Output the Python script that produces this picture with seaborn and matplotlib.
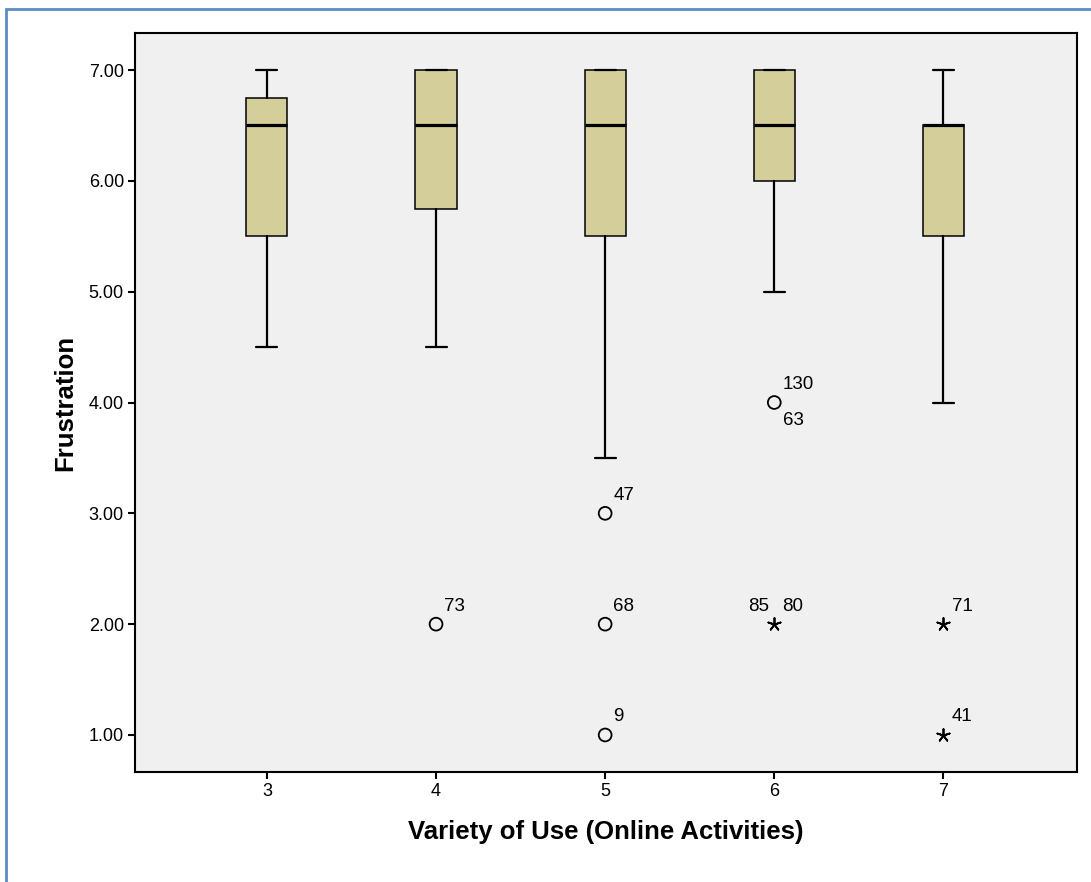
import matplotlib
matplotlib.use("Agg")
import matplotlib.pyplot as plt
import seaborn as sns
import pandas as pd
from matplotlib.patches import Rectangle

# ---- data ----
categories = [3, 4, 5, 6, 7]
whisker_low = [4.5, 4.5, 3.5, 5.0, 4.0]
q1 = [5.5, 5.75, 5.5, 6.0, 5.5]
median = [6.5, 6.5, 6.5, 6.5, 6.5]
q3 = [6.75, 7.0, 7.0, 7.0, 6.5]
whisker_high = [7.0, 7.0, 7.0, 7.0, 7.0]

outlier_x = [4, 5, 5, 5, 6, 6, 7, 7]
outlier_y = [2.0, 3.0, 2.0, 1.0, 4.0, 2.0, 2.0, 1.0]
outlier_kind = ["outlier", "outlier", "outlier", "outlier", "outlier", "extreme", "extreme", "extreme"]

label_x = [4, 5, 5, 5, 6, 6, 6, 6, 7, 7]
label_y = [2.0, 3.0, 2.0, 1.0, 4.0, 4.0, 2.0, 2.0, 2.0, 1.0]
label_text = ["73", "47", "68", "9", "130", "63", "85", "80", "71", "41"]
label_side = ["ur", "ur", "ur", "ur", "ur", "lr", "ul", "ur", "ur", "ur"]

x_label = "Variety of Use (Online Activities)"
y_label = "Frustration"
y_ticks = [1.0, 2.0, 3.0, 4.0, 5.0, 6.0, 7.0]

# ---- style ----
sns.set_theme(style="ticks")
plt.rcParams["font.family"] = ["Liberation Sans", "DejaVu Sans"]
plt.rcParams["text.color"] = "black"
plt.rcParams["axes.labelcolor"] = "black"

fig = plt.figure(figsize=(10.91, 8.82), dpi=100)
fig.patch.set_facecolor("white")
ax = fig.add_axes([135 / 1091, 1 - 772 / 882, (1077 - 135) / 1091, (772 - 33) / 882])
ax.set_facecolor("#F0F0F0")

stats = []
for i, c in enumerate(categories):
    stats.append(dict(med=median[i], q1=q1[i], q3=q3[i],
                      whislo=whisker_low[i], whishi=whisker_high[i],
                      fliers=[], label=str(c)))

ax.bxp(stats, positions=categories, widths=0.243, capwidths=0.124,
       showfliers=False, patch_artist=True,
       boxprops=dict(facecolor="#D4CF9A", edgecolor="black", linewidth=1.1),
       medianprops=dict(color="black", linewidth=2.3, solid_capstyle="butt"),
       whiskerprops=dict(color="black", linewidth=1.6),
       capprops=dict(color="black", linewidth=1.6),
       manage_ticks=False, zorder=3)

odf = pd.DataFrame({"x": outlier_x, "y": outlier_y, "kind": outlier_kind})
circ = odf[odf["kind"] == "outlier"]
star = odf[odf["kind"] == "extreme"]
sns.scatterplot(data=circ, x="x", y="y", marker="o", s=85,
                facecolor="none", edgecolor="black", linewidth=1.3,
                legend=False, ax=ax, zorder=4)
sns.scatterplot(data=star, x="x", y="y", marker=(5, 2, 0), s=85,
                color="black", linewidth=1.3, legend=False, ax=ax, zorder=4)

offsets = {"ur": (6, 13, "left"), "lr": (6, -13, "left"), "ul": (-4, 13, "right")}
for lx, ly, t, s in zip(label_x, label_y, label_text, label_side):
    dx, dy, ha = offsets[s]
    ax.annotate(t, (lx, ly), xytext=(dx, dy), textcoords="offset points",
                ha=ha, va="center", fontsize=13.5, color="black")

ax.set_xlim(2.22, 7.79)
ax.set_ylim(0.666, 7.334)
ax.set_xticks(categories)
ax.set_xticklabels([str(c) for c in categories])
ax.set_yticks(y_ticks)
ax.set_yticklabels([f"{v:.2f}" for v in y_ticks])
ax.tick_params(axis="both", direction="out", length=5, width=1.5, labelsize=13,
               colors="black", pad=3)
for sp in ax.spines.values():
    sp.set_visible(True)
    sp.set_color("black")
    sp.set_linewidth(1.5)

ax.set_xlabel(x_label, fontsize=18.5, fontweight="bold", labelpad=14, color="black")
ax.set_ylabel(y_label, fontsize=18.5, fontweight="bold", labelpad=8, color="black")

# outer blue frame
fig.patches.append(Rectangle((6 / 1091, -0.05), 1.1, 1 - 9 / 882 + 0.05,
                             transform=fig.transFigure, fill=False,
                             edgecolor="#5B8CC8", linewidth=2.0, zorder=0))

fig.savefig("out.png", dpi=100, facecolor="white")
